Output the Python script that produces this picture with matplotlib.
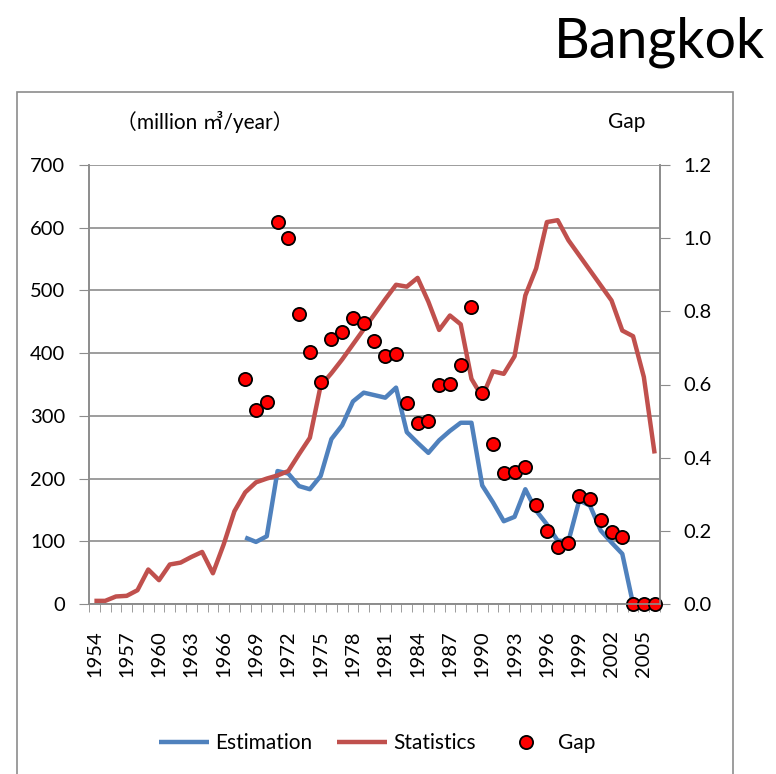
import numpy as np
import matplotlib
matplotlib.use("Agg")
import matplotlib.pyplot as plt
from matplotlib.patches import Rectangle
from matplotlib.ticker import FormatStrFormatter

plt.rcParams['font.family'] = ['Lato', 'Noto Sans CJK JP', 'DejaVu Sans']
plt.rcParams['font.size'] = 14.5

# data
years = list(range(1954, 2007))
statistics = [5, 5, 12, 13, 22, 55, 38, 63, 66, 75, 83, 49, 95, 148, 178, 194, 200,
              205, 212, 239, 265, 348, 368, 390, 414, 438, 462, 486, 509, 506, 520,
              482, 437, 460, 446, 359, 330, 371, 367, 395, 492, 535, 609, 612, 580,
              556, 532, 508, 484, 436, 427, 362, 240]

est_years = list(range(1968, 2007))
estimation = [106, 99, 108, 212, 208, 188, 183, 204, 263, 285, 323, 337, 333, 329,
              345, 274, 257, 241, 261, 276, 289, 289, 189, 162, 132, 139, 183, 149,
              127, 101, 100, 165, 157, 117, 98, 80, 0, 0, 0]

gap_years = list(range(1968, 2007))
gap = [0.614, 0.531, 0.551, 1.045, 1.0, 0.794, 0.689, 0.606, 0.725, 0.743, 0.783,
       0.768, 0.719, 0.677, 0.684, 0.549, 0.494, 0.5, 0.599, 0.602, 0.652, 0.812,
       0.576, 0.4375, 0.358, 0.36, 0.375, 0.271, 0.2, 0.157, 0.166, 0.294, 0.287,
       0.229, 0.198, 0.182, 0.0, 0.0, 0.0]

label_years = years[::3]

blue = "#4F81BD"
red = "#C0504D"
gray = "#8C8C8C"

W, H = 776, 774
fig = plt.figure(figsize=(W/100, H/100), dpi=100)

# outer chart frame
fig.patches.append(Rectangle((17/W, -0.02), 716/W, 1 - 92/H + 0.02, transform=fig.transFigure,
                             fill=False, edgecolor=gray, lw=1.2))

ax = fig.add_axes([89/W, 1 - 604/H, 571/W, 439/H])
ax.plot(est_years, estimation, color=blue, lw=3.2, label="Estimation", solid_capstyle="butt")
ax.plot(years, statistics, color=red, lw=3.2, label="Statistics", solid_capstyle="butt")
ax.set_xlim(1953.5, 2006.5)
ax.set_ylim(0, 700)
ax.set_yticks(range(0, 701, 100))
ax.grid(axis="y", color=gray, lw=1.2)
ax.set_axisbelow(True)
ax.set_xticks(label_years)
ax.set_xticklabels([str(y) for y in label_years], rotation=90)
ax.set_xticks(np.arange(1953.5, 2007), minor=True)
ax.tick_params(axis="x", which="major", length=0, pad=19)
ax.tick_params(axis="x", which="minor", length=6, color=gray, direction="out")
ax.tick_params(axis="y", length=7, color=gray, direction="out", pad=10)
for s in ["left", "bottom", "right"]:
    ax.spines[s].set_color(gray)
    ax.spines[s].set_linewidth(1.2)
ax.spines["top"].set_visible(False)

ax2 = ax.twinx()
ax2.plot(gap_years, gap, "o", color="red", mec="black", mew=1.3, ms=9.5,
         label="Gap", clip_on=False)
ax2.set_ylim(0, 1.2)
ax2.set_yticks(np.arange(0, 1.21, 0.2))
ax2.yaxis.set_major_formatter(FormatStrFormatter("%.1f"))
ax2.tick_params(axis="y", length=7, color=gray, direction="out", pad=10)
for s in ["left", "bottom", "right"]:
    ax2.spines[s].set_color(gray)
    ax2.spines[s].set_linewidth(1.2)
ax2.spines["top"].set_visible(False)

fig.text(116/W, 1 - 122/H, "（million ㎥/year）", ha="left", va="center", fontsize=15)
fig.text(645/W, 1 - 122/H, "Gap", ha="right", va="center", fontsize=15)
fig.text(765/W, 1 - 57/H, "Bangkok", ha="right", va="baseline", fontsize=40)

h1, l1 = ax.get_legend_handles_labels()
h2, l2 = ax2.get_legend_handles_labels()
fig.legend(h1 + h2, l1 + l2, loc="center", bbox_to_anchor=(377/W, 1 - 743/H), ncol=3,
           frameon=False, handlelength=2.4, columnspacing=1.2, handletextpad=0.3,
           fontsize=15)

fig.savefig("out.png", dpi=100)
